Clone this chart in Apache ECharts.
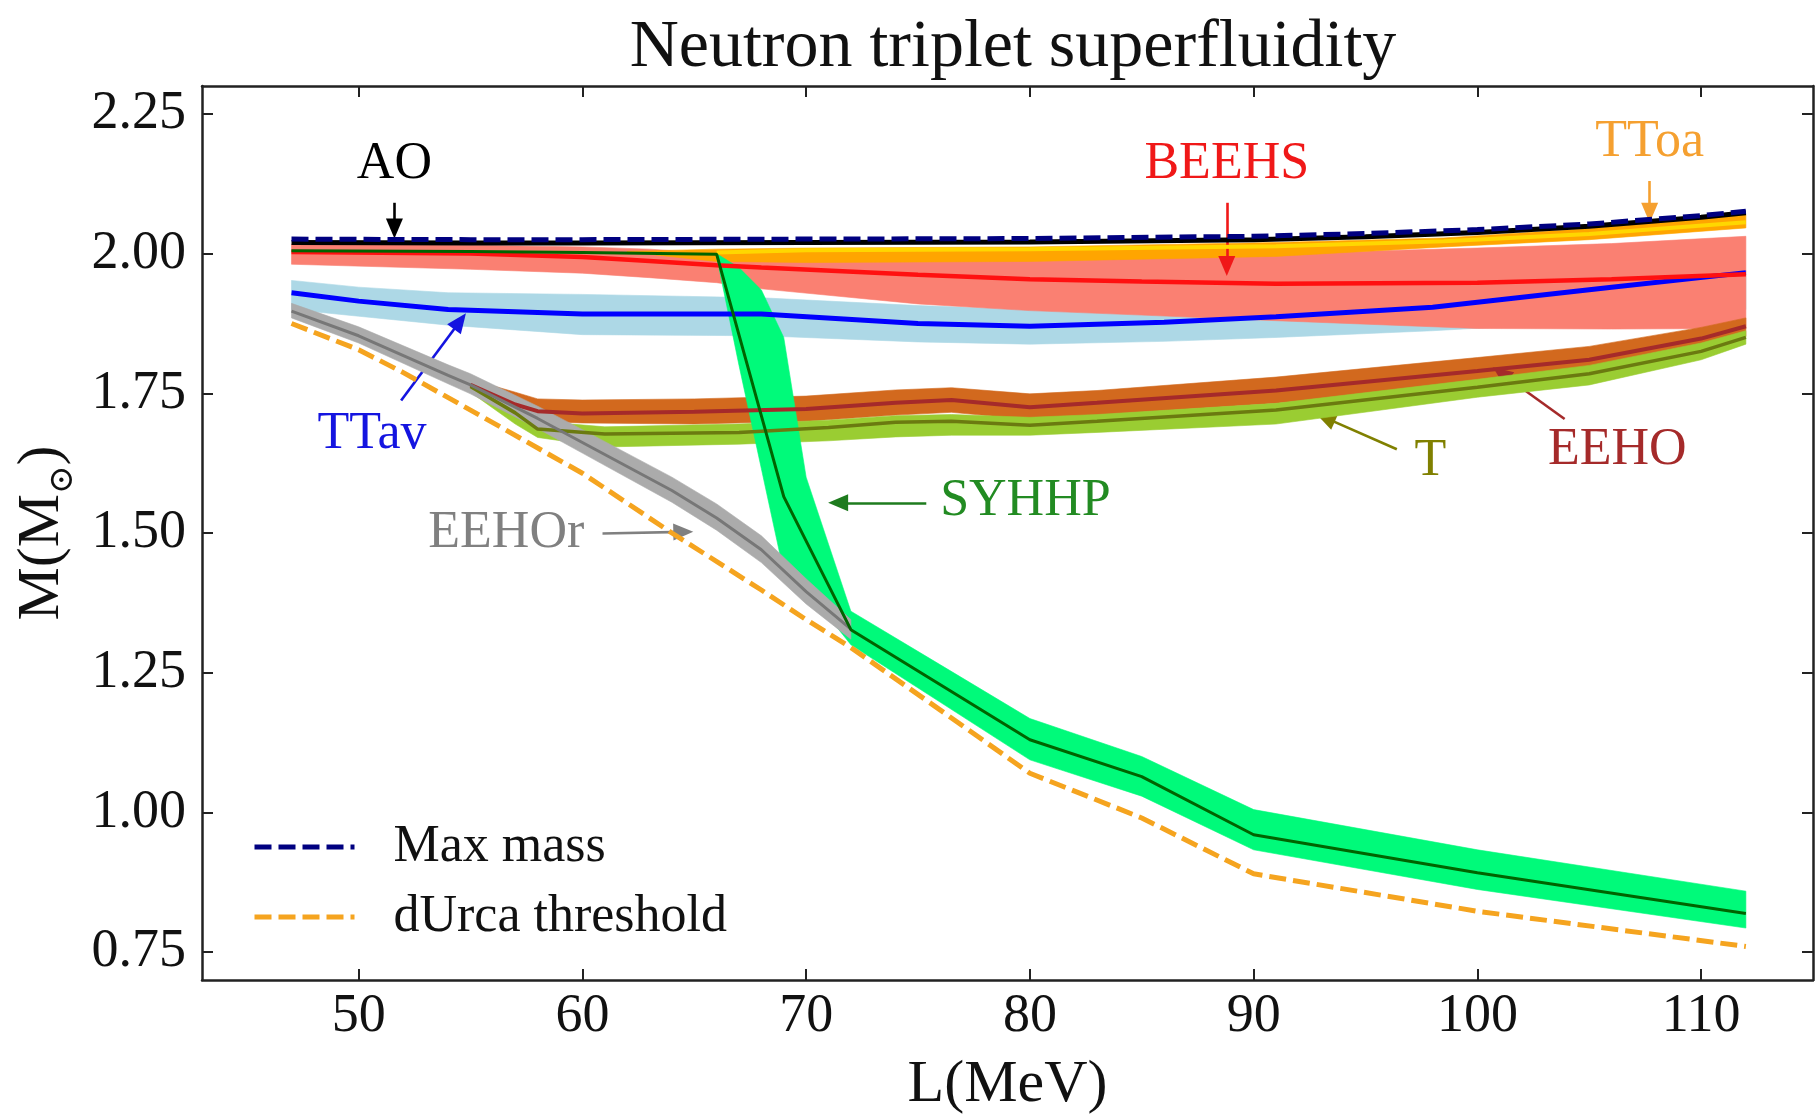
<!DOCTYPE html>
<html><head><meta charset="utf-8">
<script src="https://cdn.jsdelivr.net/npm/echarts@6/dist/echarts.min.js"></script>
<style>html,body{margin:0;padding:0;background:#fff}#c{width:1817px;height:1120px}</style>
</head><body><div id="c"></div>
<script>
const FONT = '"Liberation Serif","DejaVu Serif",serif';

// ---- axis ticks ----
const xTicks = [50, 60, 70, 80, 90, 100, 110];
const yTicks = [0.75, 1.00, 1.25, 1.50, 1.75, 2.00, 2.25];

// ---- Max mass (dashed navy) ----
const maxL = [47, 55, 60, 70, 80, 90, 95, 100, 105, 110, 112];
const maxM = [2.026, 2.025, 2.025, 2.026, 2.027, 2.031, 2.036, 2.043, 2.053, 2.068, 2.076];
// ---- AO (black) ----
const aoL = [47, 55, 60, 70, 80, 90, 95, 100, 105, 110, 112];
const aoM = [2.020, 2.019, 2.019, 2.020, 2.021, 2.025, 2.030, 2.038, 2.049, 2.065, 2.073];
// ---- dUrca threshold (dashed orange) ----
const duL = [47, 50, 52, 55, 60, 64, 68, 70, 72, 76, 80, 85, 90, 100, 112];
const duM = [1.875, 1.828, 1.787, 1.720, 1.607, 1.500, 1.398, 1.345, 1.295, 1.183, 1.070, 0.990, 0.890, 0.823, 0.760];
// ---- SYHHP ----
const syL = [47, 55, 60, 66, 69, 72, 80, 85, 90, 100, 112];
const syM = [2.005, 2.004, 2.002, 1.999, 1.565, 1.327, 1.130, 1.064, 0.960, 0.892, 0.819];
const syBandL = [66, 67, 68, 69, 70, 71, 72, 76, 80, 85, 90, 100, 112];
const syLo = [1.995, 1.800, 1.615, 1.430, 1.390, 1.350, 1.300, 1.197, 1.094, 1.029, 0.933, 0.862, 0.793];
const syHi = [2.000, 1.975, 1.935, 1.850, 1.600, 1.480, 1.360, 1.264, 1.168, 1.100, 1.005, 0.933, 0.859];
// ---- EEHOr (gray) ----
const grL = [47, 50, 54, 55, 58, 60, 64, 66, 68, 70, 72];
const grM = [1.897, 1.853, 1.782, 1.765, 1.705, 1.662, 1.576, 1.527, 1.470, 1.395, 1.328];
const grLo = [1.885, 1.840, 1.767, 1.749, 1.687, 1.643, 1.555, 1.505, 1.447, 1.373, 1.310];
const grHi = [1.911, 1.869, 1.801, 1.785, 1.727, 1.685, 1.600, 1.552, 1.495, 1.418, 1.345];
// ---- TTav (blue) ----
const tvL = [47, 50, 54, 60, 68, 75, 80, 86, 91, 98, 106, 112];
const tvM = [1.930, 1.915, 1.900, 1.892, 1.892, 1.875, 1.870, 1.877, 1.887, 1.904, 1.940, 1.966];
const tvLo = [1.900, 1.888, 1.872, 1.855, 1.853, 1.842, 1.838, 1.843, 1.850, 1.862, 1.880, 1.900];
const tvHi = [1.952, 1.940, 1.930, 1.927, 1.921, 1.907, 1.900, 1.900, 1.905, 1.920, 1.950, 1.970];
// ---- BEEHS (red) ----
const bhL = [47, 55, 60, 63, 66, 68, 75, 80, 85, 91, 100, 106, 112];
const bhM = [2.003, 2.000, 1.994, 1.987, 1.979, 1.975, 1.962, 1.954, 1.950, 1.946, 1.948, 1.954, 1.963];
const bhLo = [1.981, 1.972, 1.965, 1.957, 1.948, 1.937, 1.910, 1.898, 1.890, 1.880, 1.866, 1.865, 1.866];
const bhHi = [2.017, 2.015, 2.012, 2.008, 2.000, 1.995, 1.990, 1.990, 1.993, 2.000, 2.010, 2.018, 2.031];
// ---- TToa (orange/gold) ----
const toL = [66, 70, 80, 91, 98.5, 105, 112];
const toM = [2.002, 2.006, 2.008, 2.013, 2.022, 2.035, 2.056];
const toBandL = [62, 66, 70, 80, 91, 98.5, 105, 112];
const toLo = [2.003, 1.986, 1.984, 1.986, 1.995, 2.012, 2.025, 2.046];
const toHi = [2.004, 2.008, 2.010, 2.012, 2.020, 2.028, 2.045, 2.070];
// ---- EEHO (brown) ----
const ehL = [55, 57, 58, 60, 65, 70, 74, 76.5, 80, 83, 91, 100, 105, 110, 112];
const ehM = [1.765, 1.730, 1.718, 1.714, 1.717, 1.722, 1.733, 1.738, 1.725, 1.733, 1.755, 1.790, 1.810, 1.848, 1.870];
const ehLo = [1.755, 1.710, 1.700, 1.697, 1.695, 1.700, 1.711, 1.716, 1.703, 1.711, 1.732, 1.767, 1.787, 1.826, 1.852];
const ehHi = [1.775, 1.752, 1.740, 1.738, 1.740, 1.745, 1.756, 1.760, 1.749, 1.755, 1.779, 1.814, 1.834, 1.868, 1.885];
// ---- T (olive / yellowgreen) ----
const tL = [55, 57, 58, 61, 67, 71, 74, 76.5, 80, 83, 91, 100, 105, 110, 112];
const tM = [1.762, 1.715, 1.686, 1.677, 1.680, 1.689, 1.698, 1.700, 1.693, 1.700, 1.720, 1.761, 1.785, 1.825, 1.850];
const tLo = [1.752, 1.695, 1.671, 1.654, 1.659, 1.665, 1.672, 1.675, 1.675, 1.680, 1.695, 1.743, 1.765, 1.810, 1.838];
const tHi = [1.772, 1.730, 1.700, 1.690, 1.695, 1.702, 1.710, 1.712, 1.707, 1.712, 1.732, 1.775, 1.800, 1.840, 1.862];

// ---- annotations: [text, L, M, color]; arrows [L from, M from, L to, M to, color] ----
const annTexts = [
  ['AO', 51.6, 2.159, '#000000'],
  ['BEEHS', 88.8, 2.159, '#F01818'],
  ['TToa', 107.7, 2.200, '#F5A030'],
  ['TTav', 50.6, 1.677, '#1414E0'],
  ['EEHOr', 56.6, 1.499, '#808080'],
  ['SYHHP', 79.8, 1.557, '#228B22'],
  ['T', 97.9, 1.629, '#808000'],
  ['EEHO', 106.25, 1.648, '#A52A2A']
];
const annArrows = [
  [51.6, 2.091, 51.6, 2.045, '#000000'],
  [88.8, 2.091, 88.8, 1.978, '#F01818'],
  [107.7, 2.130, 107.7, 2.073, '#F5A030'],
  [51.9, 1.737, 54.53, 1.879, '#1414E0'],
  [60.9, 1.499, 64.51, 1.502, '#808080'],
  [75.37, 1.554, 71.43, 1.554, '#1E7B1E'],
  [96.4, 1.650, 93.21, 1.706, '#808000'],
  [103.9, 1.704, 101.06, 1.786, '#A52A2A']
];

const pairs = (xs, ys) => xs.map((x, i) => [x, ys[i]]);

function band(name, xs, lo, hi, color, z) {
  const rows = xs.map((x, i) => [x, lo[i], hi[i]]);
  return {
    name: name, type: 'custom', z: z, silent: true, clip: true,
    data: rows, encode: {x: 0, y: [1, 2]},
    renderItem: function (params, api) {
      if (params.dataIndex !== 0) return null;
      const top = rows.map(r => api.coord([r[0], r[2]]));
      const bot = rows.map(r => api.coord([r[0], r[1]])).reverse();
      return {type: 'polygon', shape: {points: top.concat(bot)},
        style: {fill: color, stroke: color, lineWidth: 0.6}};
    }
  };
}
function line(name, xs, ys, color, width, z, dash) {
  return {
    name: name, type: 'line', z: z, data: pairs(xs, ys),
    symbol: 'none', showSymbol: false, silent: true,
    lineStyle: {color: color, width: width, type: dash || 'solid'},
    itemStyle: {color: color}, emphasis: {disabled: true}
  };
}

const axisCommon = {
  type: 'value', splitLine: {show: false},
  axisLine: {show: true, onZero: false, lineStyle: {color: '#222', width: 2.5}}
};

const duSeries = line('dUrca threshold', duL, duM, '#F5A41F', 5, 18, [17, 7]);
duSeries.markPoint = {
  silent: true, animation: false,
  data: annTexts.map(a => ({
    name: a[0], coord: [a[1], a[2]], symbol: 'circle', symbolSize: 1,
    itemStyle: {color: 'rgba(0,0,0,0)'},
    label: {show: true, position: 'inside', formatter: a[0], color: a[3],
      fontFamily: FONT, fontSize: 52}
  }))
};
duSeries.markLine = {
  silent: true, animation: false, symbol: ['none', 'triangle'], symbolSize: [17, 20],
  label: {show: false},
  data: annArrows.map(a => [
    {coord: [a[0], a[1]], lineStyle: {color: a[4], width: 2.6, type: 'solid'}, itemStyle: {color: a[4]}},
    {coord: [a[2], a[3]]}
  ])
};

const option = {
  animation: false,
  backgroundColor: '#ffffff',
  title: {
    text: 'Neutron triplet superfluidity', left: 1008, top: 9, textAlign: 'center',
    textStyle: {fontFamily: FONT, fontSize: 68, fontWeight: 'normal', color: '#111'}
  },
  grid: {left: 202, right: 4, top: 86, bottom: 138, containLabel: false},
  legend: {
    data: ['Max mass', 'dUrca threshold'], orient: 'vertical', left: 247, top: 812,
    itemWidth: 100, itemHeight: 20, itemGap: 10, selectedMode: false,
    itemStyle: {opacity: 0},
    lineStyle: {width: 5},
    textStyle: {fontFamily: FONT, fontSize: 52, color: '#111', lineHeight: 60, padding: [0, 0, 0, 34]}
  },
  xAxis: [
    Object.assign({}, axisCommon, {
      min: 43, max: 115, position: 'bottom',
      axisTick: {show: true, inside: true, length: 11, lineStyle: {color: '#222', width: 2}, customValues: xTicks},
      axisLabel: {show: true, customValues: xTicks, margin: 10, fontSize: 54, fontFamily: FONT, color: '#111',
        formatter: v => String(v)},
      name: 'L(MeV)', nameLocation: 'middle', nameGap: 75,
      nameTextStyle: {fontFamily: FONT, fontSize: 60, color: '#111'}
    }),
    Object.assign({}, axisCommon, {
      min: 43, max: 115, position: 'top',
      axisTick: {show: true, inside: true, length: 11, lineStyle: {color: '#222', width: 2}, customValues: xTicks},
      axisLabel: {show: false}
    })
  ],
  yAxis: [
    Object.assign({}, axisCommon, {
      min: 0.7, max: 2.3, position: 'left',
      axisTick: {show: true, inside: true, length: 11, lineStyle: {color: '#222', width: 2}, customValues: yTicks},
      axisLabel: {show: true, customValues: yTicks, margin: 16, fontSize: 54, fontFamily: FONT, color: '#111',
        formatter: v => v.toFixed(2)},
      name: 'M(M{s|⊙})', nameLocation: 'middle', nameGap: 128, nameRotate: 90,
      nameTextStyle: {fontFamily: FONT, fontSize: 60, color: '#111',
        rich: {s: {fontFamily: '"DejaVu Serif",serif', fontSize: 34, color: '#111', verticalAlign: 'bottom', padding: [0, 0, -8, 0]}}}
    }),
    Object.assign({}, axisCommon, {
      min: 0.7, max: 2.3, position: 'right',
      axisTick: {show: true, inside: true, length: 11, lineStyle: {color: '#222', width: 2}, customValues: yTicks},
      axisLabel: {show: false}
    })
  ],
  series: [
    band('TTav band', tvL, tvLo, tvHi, '#ADD8E6', 1),
    band('BEEHS band', bhL, bhLo, bhHi, '#FA8072', 2),
    band('TToa band', toBandL, toLo, toHi, '#FFA500', 3),
    band('EEHO band', ehL, ehLo, ehHi, '#D2691E', 4),
    band('T band', tL, tLo, tHi, '#9ACD32', 5),
    band('SYHHP band', syBandL, syLo, syHi, '#00FA7A', 6),
    band('EEHOr band', grL, grLo, grHi, '#ABABAB', 7),
    line('TTav', tvL, tvM, '#0000FF', 5, 10),
    line('BEEHS', bhL, bhM, '#FF1010', 4.5, 11),
    line('TToa', toL, toM, '#FFD700', 4, 12),
    line('EEHO', ehL, ehM, '#A52A2A', 4, 13),
    line('T', tL, tM, '#6B7A10', 3.5, 14),
    line('EEHOr', grL, grM, '#777777', 3, 15),
    line('SYHHP', syL, syM, '#006400', 3, 16),
    line('AO', aoL, aoM, '#000000', 5, 17),
    duSeries,
    line('Max mass', maxL, maxM, '#000080', 5, 19, [17, 7])
  ]
};

const chart = echarts.init(document.getElementById('c'), null, {renderer: 'canvas'});
chart.setOption(option);
</script></body></html>
